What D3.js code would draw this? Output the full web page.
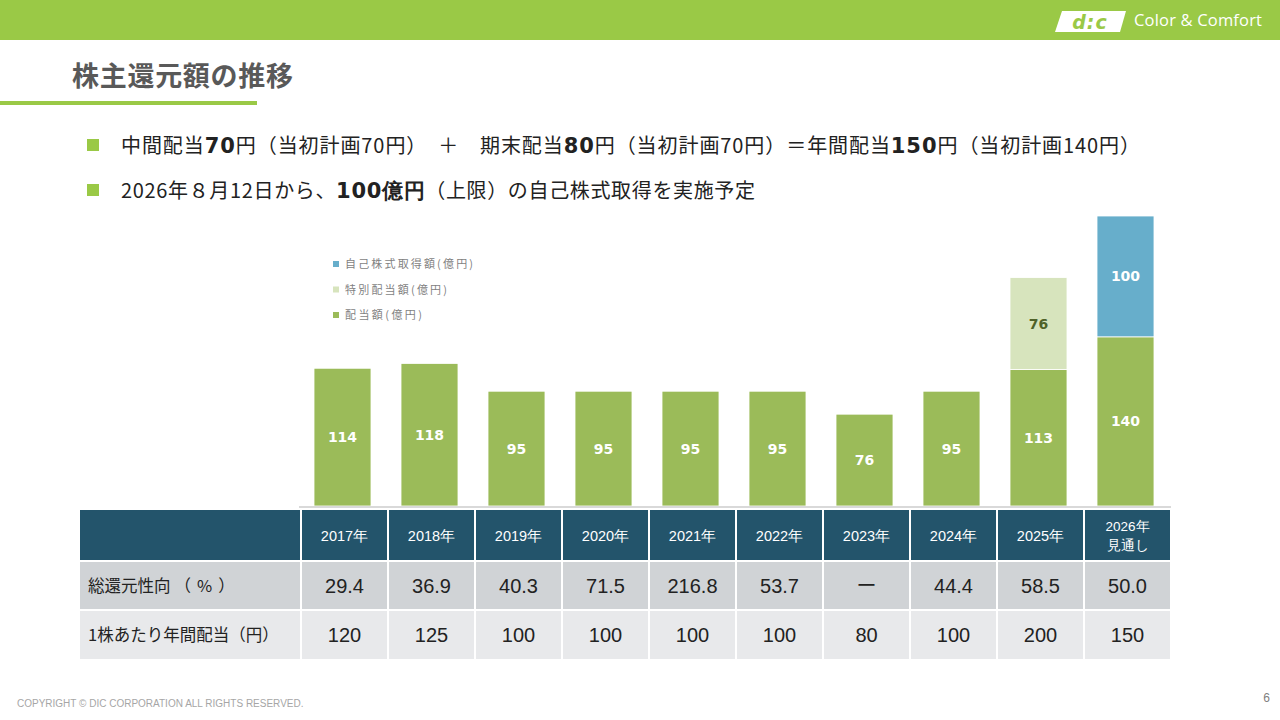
<!DOCTYPE html>
<html>
<head>
<meta charset="utf-8">
<style>
  body { margin: 0; background: #fff; }
  svg { display: block; }
  .jp { font-family: "Noto Sans CJK JP", "Noto Sans", sans-serif; }
  .num { font-family: "Liberation Sans", Arial, sans-serif; }
</style>
<script src="https://cdn.jsdelivr.net/npm/d3@7"></script>
</head>
<body>
<script>
// chart data
const years = ["2017年", "2018年", "2019年", "2020年", "2021年", "2022年", "2023年", "2024年", "2025年", "2026年\n見通し"];
const dividend = [114, 118, 95, 95, 95, 95, 76, 95, 113, 140];      // 配当額(億円)
const special = [0, 0, 0, 0, 0, 0, 0, 0, 76, 0];                    // 特別配当額(億円)
const buyback = [0, 0, 0, 0, 0, 0, 0, 0, 0, 100];                   // 自己株式取得額(億円)
const payout = ["29.4", "36.9", "40.3", "71.5", "216.8", "53.7", "ー", "44.4", "58.5", "50.0"];
const dps = ["120", "125", "100", "100", "100", "100", "80", "100", "200", "150"];
const rowLabels = [["総還元性向", "（%）"], ["1株あたり年間配当", "（円）"]];
const legendLabels = ["自己株式取得額(億円)", "特別配当額(億円)", "配当額(億円)"];

const w = 1280, h = 720;
const green = "#9BBB59", lightGreen = "#D7E4BD", blue = "#67AECB";

const svg = d3.select("body").append("svg").attr("width", w).attr("height", h);

// top banner
svg.append("rect").attr("x", 0).attr("y", 0).attr("width", w).attr("height", 40).attr("fill", "#9AC946");
svg.append("path")
  .attr("d", "M1062,11 L1126,11 L1120,32 L1055,32 Z")
  .attr("fill", "#fff");
svg.append("text").attr("x", 1090).attr("y", 29)
  .attr("text-anchor", "middle")
  .attr("font-family", "DejaVu Sans").attr("font-weight", "bold").attr("font-style", "italic")
  .attr("font-size", 19).attr("fill", "#9AC946").attr("letter-spacing", 1)
  .text("d:c");
svg.append("text").attr("x", 1134).attr("y", 26)
  .attr("font-family", "Open Sans, sans-serif").attr("font-size", 16.5).attr("fill", "#fff")
  .attr("textLength", 128)
  .text("Color & Comfort");

// title
svg.append("text").attr("class", "jp").attr("x", 72).attr("y", 86)
  .attr("font-size", 27).attr("font-weight", "bold").attr("fill", "#595959")
  .attr("textLength", 221)
  .text("株主還元額の推移");
svg.append("rect").attr("x", 0).attr("y", 101).attr("width", 257).attr("height", 4).attr("fill", "#9AC946");

// bullets
const bullets = [
  [["中間配当", 0], ["70", 1], ["円（当初計画70円）　＋　期末配当", 0], ["80", 1], ["円（当初計画70円）＝年間配当", 0], ["150", 1], ["円（当初計画140円）", 0]],
  [["2026年８月12日から、", 0], ["100億円", 1], ["（上限）の自己株式取得を実施予定", 0]]
];
const bulletWidths = [1019, 634];
bullets.forEach((parts, i) => {
  const y = 153 + i * 45;
  svg.append("rect").attr("x", 87).attr("y", y - 14).attr("width", 12).attr("height", 12).attr("fill", "#9AC946");
  const t = svg.append("text").attr("class", "jp").attr("x", 121).attr("y", y)
    .attr("font-size", 20).attr("fill", "#222")
    .attr("textLength", bulletWidths[i]);
  parts.forEach(p => {
    t.append("tspan")
      .attr("font-weight", p[1] ? "bold" : "normal")
      .attr("font-family", p[1] ? "DejaVu Sans, sans-serif" : null)
      .attr("font-size", p[1] ? 21 : null)
      .text(p[0]);
  });
});

// scales
const x = d3.scaleBand().domain(years).range([299, 1169]).paddingInner(0.345).paddingOuter(0.1725);
const col = d3.scaleBand().domain(years).range([301, 1171]);
const y = d3.scaleLinear().domain([0, 240]).range([506, 216]);

// stacked bars
const stackData = years.map((yr, i) => ({ year: yr, dividend: dividend[i], special: special[i], buyback: buyback[i] }));
const keys = ["dividend", "special", "buyback"];
const colors = { dividend: green, special: lightGreen, buyback: blue };
const labelColors = { dividend: "#fff", special: "#4F6228", buyback: "#fff" };
const series = d3.stack().keys(keys)(stackData);

series.forEach(s => {
  const g = svg.append("g");
  g.selectAll("rect").data(s.filter(d => d[1] - d[0] > 0)).enter().append("rect")
    .attr("x", d => x(d.data.year))
    .attr("y", d => y(d[1]))
    .attr("width", x.bandwidth())
    .attr("height", d => y(d[0]) - y(d[1]))
    .attr("fill", colors[s.key])
    .attr("stroke", "#fff").attr("stroke-width", 0.8);
  g.selectAll("text").data(s.filter(d => d[1] - d[0] > 0)).enter().append("text")
    .attr("x", d => x(d.data.year) + x.bandwidth() / 2)
    .attr("y", d => (y(d[0]) + y(d[1])) / 2 + 5)
    .attr("text-anchor", "middle")
    .attr("font-family", "DejaVu Sans, sans-serif").attr("font-weight", "bold")
    .attr("font-size", 14).attr("fill", labelColors[s.key])
    .text(d => d[1] - d[0]);
});

// baseline
svg.append("line").attr("x1", 299).attr("x2", 1171).attr("y1", y(0) + 1).attr("y2", y(0) + 1)
  .attr("stroke", "#D9D9D9").attr("stroke-width", 2);

// legend
const legendColors = [blue, lightGreen, green];
const legendWidths = [128, 102, 77];
legendLabels.forEach((l, i) => {
  const ly = 264 + i * 25.5;
  svg.append("rect").attr("x", 333).attr("y", ly - 3).attr("width", 6).attr("height", 6).attr("fill", legendColors[i]);
  svg.append("text").attr("class", "jp").attr("x", 345).attr("y", ly + 4)
    .attr("font-size", 11).attr("fill", "#7F7F7F")
    .attr("textLength", legendWidths[i])
    .text(l);
});

// table
const tLeft = 80;
const rows = [
  { y: 510, h: 50, fill: "#23546B" },
  { y: 562, h: 47, fill: "#D0D3D6" },
  { y: 611, h: 48, fill: "#E8E9EB" }
];
rows.forEach((r, ri) => {
  svg.append("rect").attr("x", tLeft).attr("y", r.y).attr("width", 301 - tLeft - 1).attr("height", r.h).attr("fill", r.fill);
  svg.append("g").selectAll("rect").data(years).enter().append("rect")
    .attr("x", d => col(d) + 1).attr("y", r.y)
    .attr("width", col.bandwidth() - 2).attr("height", r.h)
    .attr("fill", r.fill);
  if (ri > 0) {
    const lt = svg.append("text").attr("class", "jp").attr("x", 88).attr("y", r.y + r.h / 2 + 6)
      .attr("font-size", 16.5).attr("fill", "#222");
    lt.append("tspan").text(rowLabels[ri - 1][0]);
    lt.append("tspan").attr("dx", ri === 1 ? 4 : 0)
      .attr("letter-spacing", ri === 1 ? 6 : 0)
      .text(rowLabels[ri - 1][1]);
    const vals = ri === 1 ? payout : dps;
    svg.append("g").selectAll("text").data(vals).enter().append("text")
      .attr("class", d => d === "ー" ? "jp" : "num")
      .attr("x", (d, i) => col(years[i]) + col.bandwidth() / 2)
      .attr("y", r.y + r.h / 2 + 7)
      .attr("text-anchor", "middle")
      .attr("font-size", 20).attr("fill", "#222")
      .text(d => d);
  }
});
// header labels
years.forEach(yr => {
  const lines = yr.split("\n");
  const t = svg.append("text").attr("class", "num")
    .attr("x", col(yr) + col.bandwidth() / 2)
    .attr("text-anchor", "middle").attr("fill", "#fff")
    .attr("font-size", lines.length > 1 ? 13.5 : 14.5);
  if (lines.length === 1) {
    t.attr("y", 541).text(lines[0]);
  } else {
    lines.forEach((ln, k) => t.append("tspan").attr("x", col(yr) + col.bandwidth() / 2)
      .attr("y", 531 + k * 19).text(ln));
  }
});

// footer
svg.append("text").attr("class", "num").attr("x", 17).attr("y", 707)
  .attr("font-size", 10).attr("fill", "#A6A6A6")
  .text("COPYRIGHT © DIC CORPORATION ALL RIGHTS RESERVED.");
svg.append("text").attr("class", "num").attr("x", 1270).attr("y", 702)
  .attr("text-anchor", "end").attr("font-size", 12).attr("fill", "#808080").text("6");
</script>
</body>
</html>
